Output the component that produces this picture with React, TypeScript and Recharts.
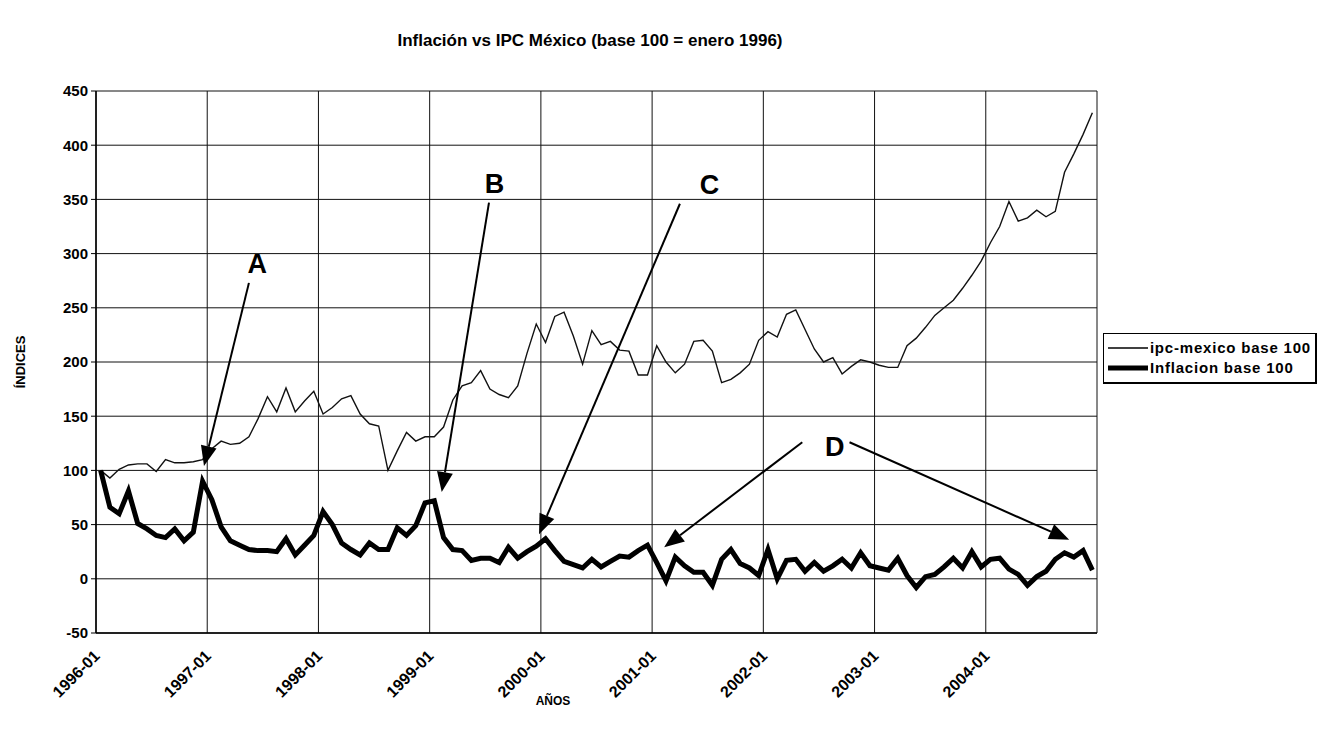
import {
    LineChart,
    Line,
    XAxis,
    YAxis,
    CartesianGrid,
    ReferenceLine,
    ReferenceDot,
    Legend,
} from 'recharts';

const FONT = '"Liberation Sans", Arial, Helvetica, sans-serif';

// monthly values, 1996-01 .. 2004-12
const ipcMexico = [
    100, 93, 101, 105, 106, 106, 99, 110, 107, 107, 108, 110,
    120, 127, 124, 125, 131, 148, 168, 154, 176, 154, 164, 173,
    152, 158, 166, 169, 152, 143, 141, 100, 118, 135, 127, 131,
    131, 140, 165, 178, 181, 192, 175, 170, 167, 178, 208, 235,
    218, 242, 246, 224, 198, 229, 216, 219, 211, 210, 188, 188,
    215, 200, 190, 198, 219, 220, 210, 181, 184, 190, 198, 220,
    228, 223, 244, 248, 230, 212, 200, 204, 189, 196, 202, 200,
    197, 195, 195, 215, 222, 232, 243, 250, 257, 268, 280, 293,
    310, 325, 348, 330, 333, 340, 334, 339, 375, 392, 410, 430,
];

const inflacion = [
    100, 66, 60, 81, 51, 46, 40, 38, 46, 35, 43, 90,
    73, 48, 35, 31, 27, 26, 26, 25, 37, 22, 31, 40,
    62, 50, 33, 27, 22, 33, 27, 27, 47, 40, 49, 70,
    72, 38, 27, 26, 17, 19, 19, 15, 29, 19, 25, 30,
    37, 26, 16, 13, 10, 18, 11, 16, 21, 20, 26, 31,
    15, -2, 20, 12, 6, 6, -6, 18, 27, 14, 10, 3,
    27, 0, 17, 18, 7, 15, 7, 12, 18, 10, 24, 12,
    10, 8, 19, 3, -8, 2, 4, 11, 19, 10, 25, 11,
    18, 19, 9, 4, -6, 2, 7, 18, 24, 20, 26, 8,
];

const yearLabels = [
    '1996-01', '1997-01', '1998-01', '1999-01', '2000-01',
    '2001-01', '2002-01', '2003-01', '2004-01',
];

const yTicks = [-50, 0, 50, 100, 150, 200, 250, 300, 350, 400, 450];

// annotation letters and arrows (in chart units: month index, value)
const letters = [
    { t: 'A', x: 17.4, y: 290 },
    { t: 'B', x: 43.0, y: 364 },
    { t: 'C', x: 66.2, y: 363 },
    { t: 'D', x: 79.7, y: 122 },
];

const arrows = [
    { x1: 16.5, y1: 273, x2: 11.65, y2: 104 },
    { x1: 42.4, y1: 347, x2: 37.3, y2: 80 },
    { x1: 63.0, y1: 346, x2: 47.8, y2: 41 },
    { x1: 76.2, y1: 126, x2: 61.3, y2: 29 },
    { x1: 81.3, y1: 126, x2: 105.0, y2: 36 },
];

const data = ipcMexico.map((ipc, i) => ({ m: i + 0.5, ipc, inf: inflacion[i] }));
const xTicks = yearLabels.map((_, i) => i * 12).concat(108);

const XTick = (props: any) => {
    const { x, y, payload } = props;
    const label = yearLabels[payload.value / 12];
    if (!label) return null;
    return (
        <text
            transform={`translate(${x + 1},${y + 20}) rotate(-45)`}
            textAnchor="end"
            dominantBaseline="central"
            fontFamily={FONT}
            fontWeight={700}
            fontSize={16}
            fill="#000"
        >
            {label}
        </text>
    );
};

const Arrow = (p: any) => {
    const { x1, y1, x2, y2 } = p;
    const dx = x2 - x1;
    const dy = y2 - y1;
    const len = Math.hypot(dx, dy) || 1;
    const ux = dx / len;
    const uy = dy / len;
    const hl = 20;
    const hw = 8;
    const bx = x2 - ux * hl;
    const by = y2 - uy * hl;
    const pts = `${x2},${y2} ${bx - uy * hw},${by + ux * hw} ${bx + uy * hw},${by - ux * hw}`;
    return (
        <g>
            <line x1={x1} y1={y1} x2={bx} y2={by} stroke="#000" strokeWidth={2} />
            <polygon points={pts} fill="#000" />
        </g>
    );
};

const renderLegend = () => (
    <div
        style={{
            border: '1px solid #000',
            borderRightWidth: 2,
            borderBottomWidth: 2,
            background: '#fff',
            padding: '4px 4px',
            fontFamily: FONT,
            fontWeight: 700,
            fontSize: 15,
            letterSpacing: 0.8,
            color: '#000',
            lineHeight: '20px',
            whiteSpace: 'nowrap',
        }}
    >
        <div style={{ display: 'flex', alignItems: 'center' }}>
            <svg width={40} height={10} style={{ marginRight: 2 }}>
                <line x1={0} y1={5} x2={40} y2={5} stroke="#000" strokeWidth={1.3} />
            </svg>
            <span>ipc-mexico base 100</span>
        </div>
        <div style={{ display: 'flex', alignItems: 'center' }}>
            <svg width={40} height={10} style={{ marginRight: 2 }}>
                <line x1={0} y1={5} x2={40} y2={5} stroke="#000" strokeWidth={5} />
            </svg>
            <span>Inflacion base 100</span>
        </div>
    </div>
);

export default function App() {
    return (
        <div style={{ position: 'absolute', left: 0, top: 0, width: 1320, height: 731, background: '#fff', overflow: 'hidden' }}>
            <div
                style={{
                    position: 'absolute', left: 0, top: 31, width: 1180, textAlign: 'center',
                    fontFamily: FONT, fontWeight: 700, fontSize: 17, color: '#000',
                }}
            >
                Inflación vs IPC México (base 100 = enero 1996)
            </div>
            <div
                style={{
                    position: 'absolute', left: 20, top: 362, transform: 'translate(-50%, -50%) rotate(-90deg)',
                    fontFamily: FONT, fontWeight: 700, fontSize: 13, color: '#000', whiteSpace: 'nowrap',
                }}
            >
                ÍNDICES
            </div>
            <div
                style={{
                    position: 'absolute', left: 553, top: 701, transform: 'translate(-50%, -50%)',
                    fontFamily: FONT, fontWeight: 700, fontSize: 12, color: '#000',
                }}
            >
                AÑOS
            </div>
            <div style={{ position: 'absolute', left: 0, top: 0 }}>
                <LineChart width={1320} height={731} data={data} margin={{ top: 91, right: 223, bottom: 0, left: 0 }}>
                    <CartesianGrid stroke="#111" strokeWidth={1} />
                    <XAxis
                        type="number"
                        dataKey="m"
                        domain={[0, 108]}
                        ticks={xTicks}
                        interval={0}
                        tick={<XTick />}
                        tickLine={false}
                        tickSize={0}
                        tickMargin={0}
                        axisLine={{ stroke: '#000', strokeWidth: 1.5 }}
                        height={98}
                        allowDataOverflow
                    />
                    <YAxis
                        type="number"
                        domain={[-50, 450]}
                        ticks={yTicks}
                        interval={0}
                        width={96}
                        tickSize={5}
                        tickMargin={3}
                        tickLine={{ stroke: '#000' }}
                        axisLine={{ stroke: '#000', strokeWidth: 1.5 }}
                        tick={{ fill: '#000', fontSize: 15, fontWeight: 700, fontFamily: FONT }}
                        allowDataOverflow
                    />
                    <Legend
                        layout="horizontal"
                        verticalAlign="middle"
                        align="center"
                        content={renderLegend}
                        wrapperStyle={{ left: 1103, top: 333, width: 214 }}
                    />
                    <Line
                        type="linear"
                        dataKey="ipc"
                        name="ipc-mexico base 100"
                        stroke="#111"
                        strokeWidth={1.4}
                        dot={false}
                        activeDot={false}
                        isAnimationActive={false}
                    />
                    <Line
                        type="linear"
                        dataKey="inf"
                        name="Inflacion base 100"
                        stroke="#000"
                        strokeWidth={5}
                        dot={false}
                        activeDot={false}
                        isAnimationActive={false}
                    />
                    {arrows.map((a, i) => (
                        <ReferenceLine
                            key={`arrow-${i}`}
                            segment={[{ x: a.x1, y: a.y1 }, { x: a.x2, y: a.y2 }]}
                            shape={Arrow}
                        />
                    ))}
                    {letters.map((l) => (
                        <ReferenceDot
                            key={l.t}
                            x={l.x}
                            y={l.y}
                            r={0}
                            shape={(p: any) => (
                                <text
                                    x={p.cx}
                                    y={p.cy}
                                    textAnchor="middle"
                                    dominantBaseline="central"
                                    fontFamily={FONT}
                                    fontWeight={700}
                                    fontSize={27}
                                    fill="#000"
                                >
                                    {l.t}
                                </text>
                            )}
                        />
                    ))}
                </LineChart>
            </div>
        </div>
    );
}
